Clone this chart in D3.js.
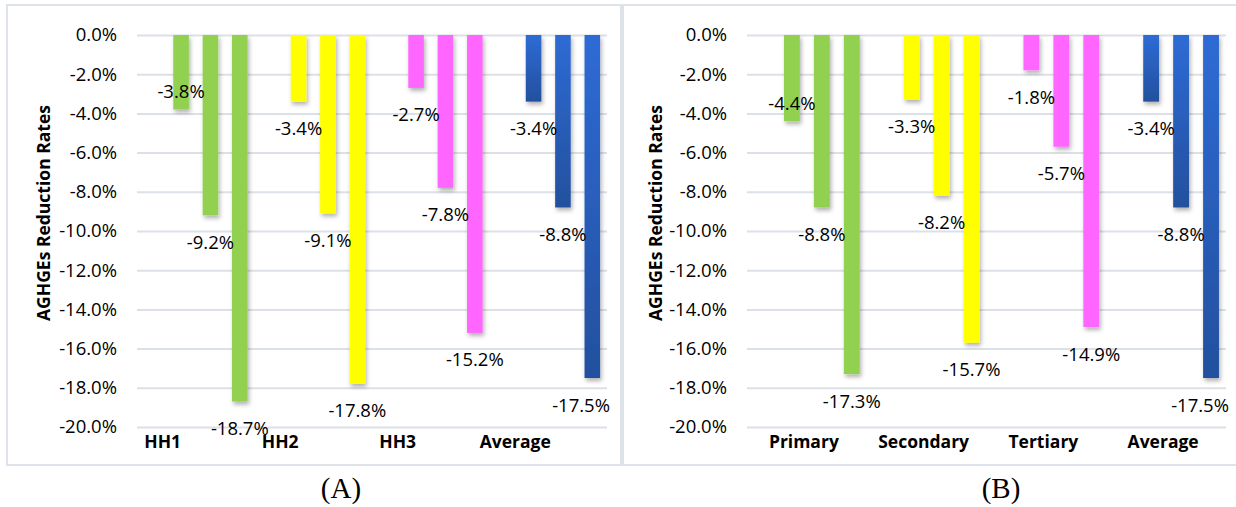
<!DOCTYPE html>
<html>
<head>
<meta charset="utf-8">
<script src="https://cdn.jsdelivr.net/npm/d3@7"></script>
<style>
  body { margin: 0; background: #fff; }
  svg { display: block; }
</style>
</head>
<body>
<svg></svg>
<script>
// panel A: households, panel B: education levels
var catsA = ['HH1', 'HH2', 'HH3', 'Average'];
var catsB = ['Primary', 'Secondary', 'Tertiary', 'Average'];

// three scenarios per category (reduction rate, %)
var a1 = [-3.8, -3.4, -2.7, -3.4];
var a2 = [-9.2, -9.1, -7.8, -8.8];
var a3 = [-18.7, -17.8, -15.2, -17.5];

var b1 = [-4.4, -3.3, -1.8, -3.4];
var b2 = [-8.8, -8.2, -5.7, -8.8];
var b3 = [-17.3, -15.7, -14.9, -17.5];

var yTicks = [0, -2, -4, -6, -8, -10, -12, -14, -16, -18, -20];
var catColors = ['#92D050', '#FFFF00', '#FF66FF', 'url(#blueGrad)'];

var svgWidth = 1236, svgHeight = 507;
var sans = "'Open Sans', 'Noto Sans', sans-serif";

var svg = d3.select('svg')
    .attr('width', svgWidth)
    .attr('height', svgHeight);

var defs = svg.append('defs');
var grad = defs.append('linearGradient')
    .attr('id', 'blueGrad')
    .attr('x1', 0).attr('y1', 0).attr('x2', 0).attr('y2', 1);
grad.append('stop').attr('offset', '0%').attr('stop-color', '#2E6BD5');
grad.append('stop').attr('offset', '100%').attr('stop-color', '#23509E');

var shadow = defs.append('filter')
    .attr('id', 'barShadow')
    .attr('x', '-50%').attr('y', '-10%').attr('width', '200%').attr('height', '130%');
shadow.append('feDropShadow')
    .attr('dx', 1.5).attr('dy', 3)
    .attr('stdDeviation', 2)
    .attr('flood-color', '#000')
    .attr('flood-opacity', 0.3);

function fmt(d) {
    return (d === 0 ? '0.0' : d.toFixed(1)) + '%';
}

function drawPanel(p) {
    var series = [p.s1, p.s2, p.s3];

    svg.append('rect')
        .attr('x', p.box[0]).attr('y', p.box[1])
        .attr('width', p.box[2]).attr('height', p.box[3])
        .attr('fill', 'none')
        .attr('stroke', '#DEE2E9')
        .attr('stroke-width', 2);

    var y = d3.scaleLinear()
        .domain([-20, 0])
        .range([p.bottom, p.top]);

    var x0 = d3.scaleBand()
        .domain(p.cats)
        .range([p.left, p.right]);

    // 4 slots per category, first one empty (as in the original chart)
    var x1 = d3.scaleBand()
        .domain([0, 1, 2, 3])
        .range([0, x0.bandwidth()])
        .paddingInner(0.47)
        .paddingOuter(0.235);

    var g = svg.append('g');

    g.append('g')
        .attr('transform', 'translate(' + p.left + ',0)')
        .call(d3.axisLeft(y).tickValues(yTicks).tickFormat(fmt)
            .tickSize(-(p.right - p.left)).tickPadding(20))
        .call(function(ax) {
            ax.select('.domain').remove();
            ax.selectAll('.tick line')
                .attr('stroke', '#DCE0E7')
                .attr('stroke-width', 2);
            ax.selectAll('.tick text')
                .attr('fill', '#000')
                .style('font-family', sans)
                .style('font-size', '18.5px');
        });

    var groups = g.selectAll('.grp')
        .data(p.cats)
        .enter()
        .append('g')
        .attr('class', 'grp')
        .attr('transform', function(d) { return 'translate(' + x0(d) + ',0)'; });

    groups.selectAll('rect')
        .data(function(d, ci) {
            return series.map(function(s, si) { return { ci: ci, si: si, v: s[ci] }; });
        })
        .enter()
        .append('rect')
        .attr('x', function(d) { return x1(d.si + 1); })
        .attr('width', x1.bandwidth())
        .attr('y', y(0))
        .attr('height', function(d) { return y(d.v) - y(0); })
        .attr('fill', function(d) { return catColors[d.ci]; })
        .attr('filter', 'url(#barShadow)');

    groups.selectAll('text.lbl')
        .data(function(d, ci) {
            return series.map(function(s, si) { return { ci: ci, si: si, v: s[ci] }; });
        })
        .enter()
        .append('text')
        .attr('class', 'lbl')
        .attr('x', function(d) { return x1(d.si + 1) + x1.bandwidth() / 2; })
        .attr('y', function(d) {
            var above = p.labelAbove.some(function(a) { return a[0] === d.ci && a[1] === d.si; });
            return y(d.v) + (above ? -19 : 26);
        })
        .attr('text-anchor', 'middle')
        .attr('dominant-baseline', 'central')
        .style('font-family', sans)
        .style('font-size', '18.5px')
        .attr('fill', '#000')
        .text(function(d) { return fmt(d.v); })
        .each(function(d) {
            // keep labels inside the plot area on the right
            var gx = x0(p.cats[d.ci]);
            var w = this.getComputedTextLength();
            var cx = +d3.select(this).attr('x');
            var maxCx = p.right + 3 - w / 2 - gx;
            if (cx > maxCx) d3.select(this).attr('x', maxCx);
        });

    g.selectAll('.cat')
        .data(p.cats)
        .enter()
        .append('text')
        .attr('class', 'cat')
        .attr('x', function(d) { return x0(d) + x0.bandwidth() / 2 + p.catShift; })
        .attr('y', p.bottom + 21)
        .attr('text-anchor', 'middle')
        .style('font-family', sans)
        .style('font-size', '17.5px')
        .style('font-weight', 700)
        .attr('fill', '#000')
        .text(function(d) { return d; });

    g.append('text')
        .attr('transform', 'translate(' + p.titleX + ',' + ((p.top + p.bottom) / 2 - 18) + ') rotate(-90)')
        .attr('text-anchor', 'middle')
        .attr('dominant-baseline', 'central')
        .style('font-family', sans)
        .style('font-size', '17.5px')
        .style('font-weight', 700)
        .attr('fill', '#000')
        .text('AGHGEs Reduction Rates');

    svg.append('text')
        .attr('x', p.captionX)
        .attr('y', 498)
        .attr('text-anchor', 'middle')
        .style('font-family', "'Liberation Serif', 'DejaVu Serif', serif")
        .style('font-size', '29px')
        .attr('fill', '#000')
        .text(p.caption);
}

drawPanel({
    cats: catsA, s1: a1, s2: a2, s3: a3,
    box: [7, 5, 614, 460],
    left: 137, right: 607, top: 35, bottom: 427,
    titleX: 43, catShift: -33, captionX: 341, caption: '(A)',
    labelAbove: [[0, 0]]
});

drawPanel({
    cats: catsB, s1: b1, s2: b2, s3: b3,
    box: [623, 5, 616, 460],
    left: 747, right: 1226, top: 35, bottom: 427,
    titleX: 655, catShift: -3, captionX: 1001, caption: '(B)',
    labelAbove: [[0, 0]]
});
</script>
</body>
</html>
